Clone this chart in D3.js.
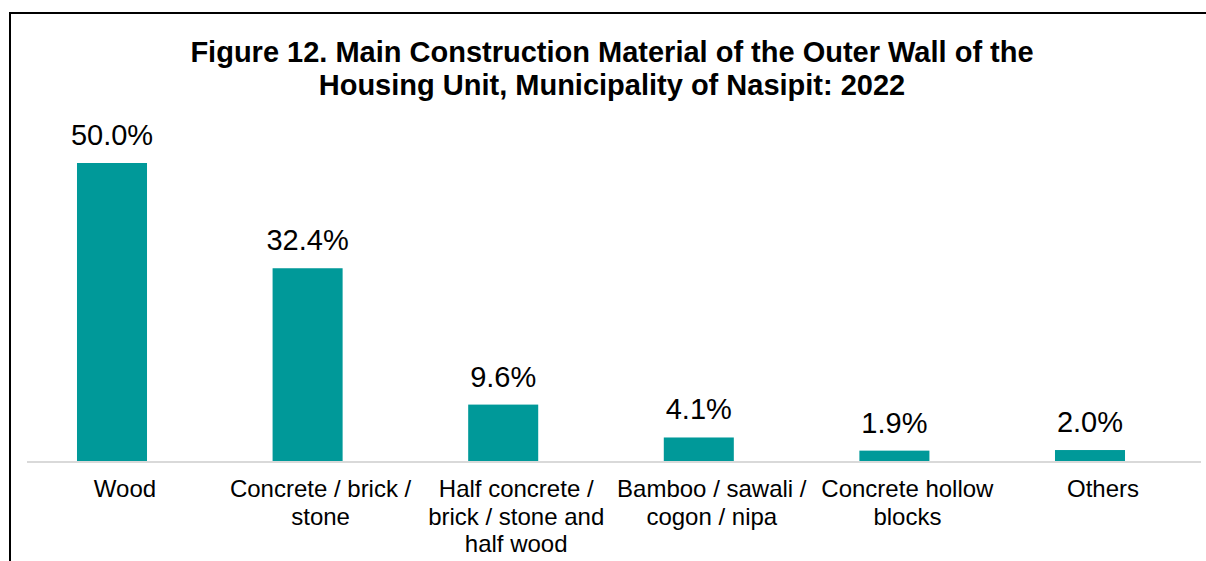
<!DOCTYPE html>
<html>
<head>
<meta charset="utf-8">
<title>Figure 12</title>
<script src="https://cdn.jsdelivr.net/npm/d3@7"></script>
<style>
  body { margin: 0; background: #fff; }
  svg { display: block; font-family: "Liberation Sans", Arial, sans-serif; }
</style>
</head>
<body>
<div id="chart"></div>
<script>
  // data
  var categories = ["Wood", "Concrete / brick / stone", "Half concrete / brick / stone and half wood",
                    "Bamboo / sawali / cogon / nipa", "Concrete hollow blocks", "Others"];
  var values = [50.0, 32.4, 9.6, 4.1, 1.9, 2.0];
  var titleLines = ["Figure 12. Main Construction Material of the Outer Wall of the",
                    "Housing Unit, Municipality of Nasipit: 2022"];

  var width = 1206, height = 561;
  var baseY = 462;
  var barColor = "#009999";

  var svg = d3.select("#chart").append("svg")
    .attr("width", width)
    .attr("height", height);

  // frame (top and left edges visible)
  svg.append("path")
    .attr("d", "M10,561 V13 H1206")
    .attr("fill", "none")
    .attr("stroke", "#000")
    .attr("stroke-width", 2);

  // title
  svg.append("text")
    .attr("text-anchor", "middle")
    .attr("font-weight", "bold")
    .attr("font-size", "29px")
    .attr("fill", "#000")
    .selectAll("tspan").data(titleLines).enter().append("tspan")
      .attr("x", 612)
      .attr("y", function(d, i) { return 62 + i * 33; })
      .text(function(d) { return d; });

  var x = d3.scaleBand()
    .domain(categories)
    .range([14.2, 1187.8])
    .paddingInner(0.642)
    .paddingOuter(0.321);

  var y = d3.scaleLinear()
    .domain([0, 50])
    .range([baseY, 163]);

  // baseline
  svg.append("line")
    .attr("x1", 27).attr("x2", 1201)
    .attr("y1", baseY).attr("y2", baseY)
    .attr("stroke", "#d9d9d9")
    .attr("stroke-width", 2);

  var data = categories.map(function(c, i) { return {cat: c, val: values[i]}; });

  svg.selectAll("rect.bar").data(data).enter().append("rect")
    .attr("class", "bar")
    .attr("x", function(d) { return x(d.cat); })
    .attr("y", function(d) { return y(d.val); })
    .attr("width", x.bandwidth())
    .attr("height", function(d) { return baseY - 1 - y(d.val); })
    .attr("fill", barColor);

  // value labels
  svg.selectAll("text.val").data(data).enter().append("text")
    .attr("class", "val")
    .attr("x", function(d) { return x(d.cat) + x.bandwidth() / 2; })
    .attr("y", function(d) { return y(d.val) - 18; })
    .attr("text-anchor", "middle")
    .attr("font-size", "29px")
    .attr("fill", "#000")
    .text(function(d) { return d.val.toFixed(1) + "%"; });

  // category labels, wrapped to the band step
  var labels = svg.selectAll("text.cat").data(data).enter().append("text")
    .attr("class", "cat")
    .attr("text-anchor", "middle")
    .attr("font-size", "24px")
    .attr("fill", "#000");

  labels.each(function(d) {
    var t = d3.select(this);
    var cx = x(d.cat) + x.bandwidth() / 2 + 13;
    var words = d.cat.split(" ");
    var lines = [], line = [];
    var probe = t.append("tspan");
    words.forEach(function(w) {
      line.push(w);
      probe.text(line.join(" "));
      if (probe.node().getComputedTextLength() > 195 && line.length > 1) {
        line.pop();
        lines.push(line.join(" "));
        line = [w];
      }
    });
    lines.push(line.join(" "));
    probe.remove();
    lines.forEach(function(l, i) {
      t.append("tspan").attr("x", cx).attr("y", 497 + i * 27.5).text(l);
    });
  });
</script>
</body>
</html>
